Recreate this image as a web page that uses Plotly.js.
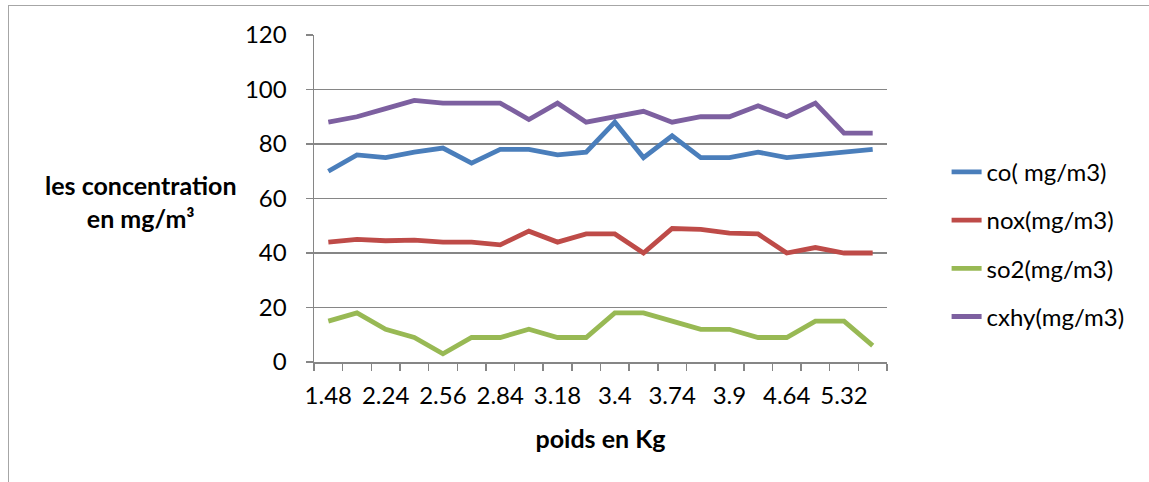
<!DOCTYPE html>
<html>
<head>
<meta charset="utf-8">
<script src="https://cdn.plot.ly/plotly-3.0.1.min.js"></script>
<style>
  html, body { margin: 0; padding: 0; background: #fff; }
  #wrap { position: relative; width: 1149px; height: 482px; }
  #chart { width: 1149px; height: 482px; }
  #frame { position: absolute; left: 8px; top: 5px; right: -2px; bottom: -2px;
           border-top: 1.5px solid #a6a6a6; border-left: 1.5px solid #a6a6a6; pointer-events: none; }
</style>
</head>
<body>
<div id="wrap">
  <div id="chart"></div>
  <div id="frame"></div>
</div>
<script>
// Weight categories (x axis). Excel shows only every other label.
const categories = ['1.48','1.9','2.24','2.4','2.56','2.7','2.84','3','3.18','3.3',
                    '3.4','3.6','3.74','3.8','3.9','4.2','4.64','5','5.32','5.5'];
const shownLabels = ['1.48','2.24','2.56','2.84','3.18','3.4','3.74','3.9','4.64','5.32'];

const co   = [70, 76, 75, 77, 78.5, 73, 78, 78, 76, 77, 88, 75, 83, 75, 75, 77, 75, 76, 77, 78];
const nox  = [44, 45, 44.5, 44.7, 44, 44, 43, 48, 44, 47, 47, 40, 49, 48.7, 47.3, 47, 40, 42, 40, 40];
const so2  = [15, 18, 12, 9, 3, 9, 9, 12, 9, 9, 18, 18, 15, 12, 12, 9, 9, 15, 15, 6];
const cxhy = [88, 90, 93, 96, 95, 95, 95, 89, 95, 88, 90, 92, 88, 90, 90, 94, 90, 95, 84, 84];

const seriesNames = ['co( mg/m3)', 'nox(mg/m3)', 'so2(mg/m3)', 'cxhy(mg/m3)'];
const seriesValues = [co, nox, so2, cxhy];
const seriesColors = ['#4A7EBB', '#BE4B48', '#98B954', '#7D60A0'];

const FONT = 'Lato, "Open Sans", sans-serif';

const traces = seriesValues.map((vals, i) => ({
  type: 'scatter',
  mode: 'lines',
  x: categories,
  y: vals,
  name: seriesNames[i],
  legendgroup: 'g' + i,
  line: { color: seriesColors[i], width: 4.8 }
}));

const layout = {
  width: 1149,
  height: 482,
  margin: { l: 314, r: 262, t: 35, b: 120 },
  paper_bgcolor: '#ffffff',
  plot_bgcolor: '#ffffff',
  font: { family: FONT, size: 24, color: '#000' },
  showlegend: true,
  legend: {
    x: 1.104, xanchor: 'left',
    y: 0.36, yanchor: 'middle',
    traceorder: 'grouped',
    tracegroupgap: 14,
    font: { family: FONT, size: 24, color: '#000' },
    bgcolor: 'rgba(0,0,0,0)'
  },
  xaxis: {
    type: 'category',
    categoryorder: 'array',
    categoryarray: categories,
    tickmode: 'array',
    tickvals: categories,
    ticktext: categories.map(c => shownLabels.includes(c) ? c : ''),
    tickson: 'boundaries',
    ticks: 'outside',
    ticklen: 7,
    tickwidth: 1.5,
    tickcolor: '#868686',
    ticklabelstandoff: 12,
    showgrid: false,
    showline: true,
    linecolor: '#868686',
    linewidth: 1.5,
    tickangle: 0,
    tickfont: { family: FONT, size: 24, color: '#000' },
    range: [-0.5, 19.5],
    title: {
      text: '<b>poids en Kg</b>',
      font: { family: FONT, size: 25, color: '#000' },
      standoff: 22
    }
  },
  yaxis: {
    range: [0, 120],
    tickmode: 'linear',
    tick0: 0,
    dtick: 20,
    ticks: 'outside',
    ticklen: 7,
    tickwidth: 1.5,
    tickcolor: '#868686',
    showgrid: true,
    gridcolor: '#868686',
    gridwidth: 1.5,
    zeroline: false,
    showline: true,
    linecolor: '#868686',
    linewidth: 1.5,
    ticklabelstandoff: 14,
    tickfont: { family: FONT, size: 24, color: '#000' }
  },
  annotations: [{
    xref: 'paper', yref: 'paper',
    x: -0.302, y: 0.49,
    xanchor: 'center', yanchor: 'middle',
    showarrow: false,
    align: 'center',
    text: '<b>les concentration<br>en mg/m³</b>',
    font: { family: FONT, size: 25, color: '#000' }
  }]
};

Plotly.newPlot('chart', traces, layout, { displayModeBar: false, staticPlot: true });
</script>
</body>
</html>
